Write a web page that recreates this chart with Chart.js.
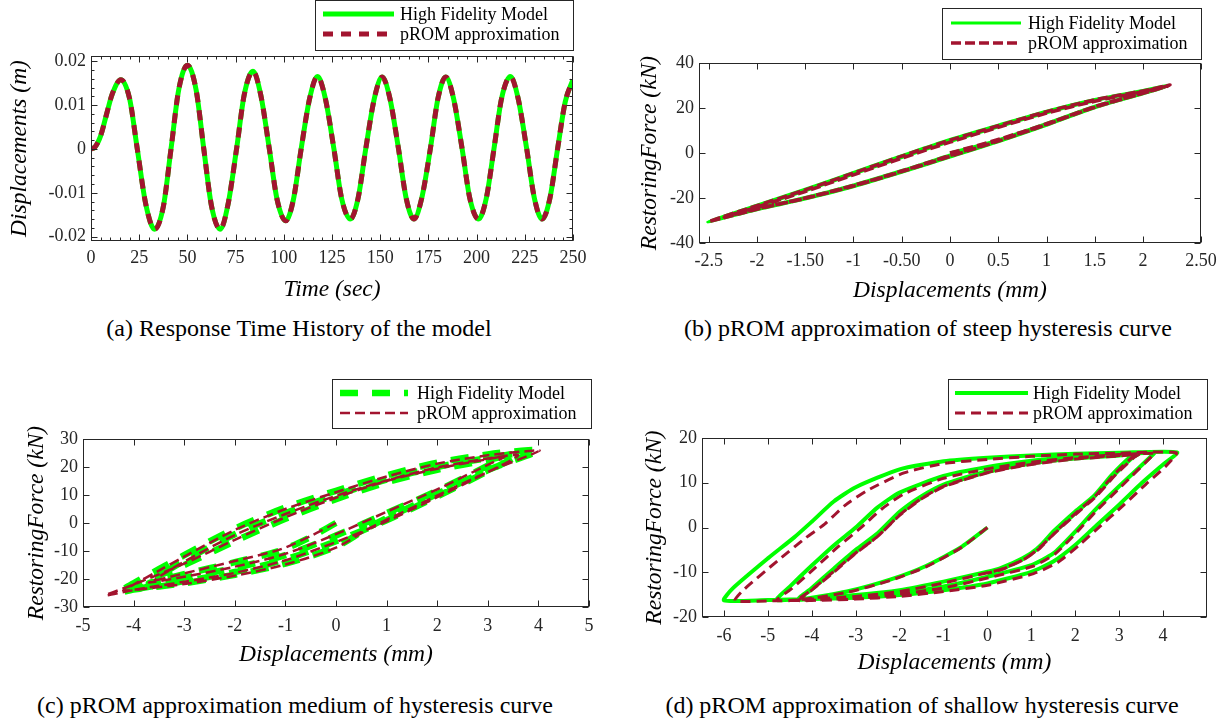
<!DOCTYPE html>
<html>
<head>
<meta charset="utf-8">
<script src="https://cdn.jsdelivr.net/npm/chart.js@4.4.0/dist/chart.umd.min.js"></script>
<style>
  body { margin: 0; background: #fff; width: 1219px; height: 723px; position: relative; overflow: hidden; }
  canvas { position: absolute; }
  .cap { position: absolute; font-family: 'Liberation Serif', 'Times New Roman', serif; font-size: 24px; color: #000; white-space: nowrap; transform: translateX(-50%); line-height: 28px; }
</style>
</head>
<body>
<canvas id="chartA" width="610" height="310" style="left:0;top:0"></canvas>
<canvas id="chartB" width="609" height="310" style="left:610px;top:0"></canvas>
<canvas id="chartC" width="610" height="315" style="left:0;top:365px"></canvas>
<canvas id="chartD" width="609" height="315" style="left:610px;top:365px"></canvas>
<div class="cap" style="left:299px;top:314px">(a) Response Time History of the model</div>
<div class="cap" style="left:928px;top:314px">(b) pROM approximation of steep hysteresis curve</div>
<div class="cap" style="left:295px;top:691px">(c) pROM approximation medium of hysteresis curve</div>
<div class="cap" style="left:922px;top:691px">(d) pROM approximation of shallow hysteresis curve</div>
<script>
// (a) response time history
const timeSec = [0, 2, 5, 8, 11, 15.5, 20, 24, 28.5, 33, 37.5, 41.5, 45.5, 50, 54.5, 58.5, 62.5, 67, 71, 75.5,
  79.5, 84, 88, 92.5, 96.5, 101, 105, 109, 113.5, 117.5, 121.5, 126, 130, 134.5, 138.5, 142.5, 147, 151, 155,
  159.5, 163.5, 167.5, 171.5, 176, 180, 184, 188, 192.5, 196.5, 201, 205, 209, 213, 217.5, 221.5, 226, 230,
  234, 238, 242, 246, 250];
const dispHFM = [0, 0.0004, 0.003, 0.0078, 0.0125, 0.0158, 0.0115, 0, -0.0128, -0.0183, -0.0132, 0, 0.0135,
  0.0191, 0.0135, 0, -0.013, -0.0183, -0.0128, 0, 0.0124, 0.0177, 0.0124, 0, -0.0115, -0.0164, -0.0115, 0,
  0.0117, 0.0165, 0.0116, 0, -0.0113, -0.016, -0.0113, 0, 0.0116, 0.0164, 0.0116, 0, -0.0113, -0.016, -0.0113,
  0, 0.0116, 0.0164, 0.0116, 0, -0.0113, -0.016, -0.0113, 0, 0.0116, 0.0165, 0.0116, 0, -0.0113, -0.016,
  -0.0113, 0, 0.0108, 0.0158];
const dispROM = [0, 0.0004, 0.003, 0.0078, 0.0125, 0.0158, 0.0115, 0, -0.0128, -0.0183, -0.0132, 0, 0.0135,
  0.0191, 0.0135, 0, -0.013, -0.0183, -0.0128, 0, 0.0124, 0.0177, 0.0124, 0, -0.0115, -0.0164, -0.0115, 0,
  0.0117, 0.0165, 0.0116, 0, -0.0113, -0.016, -0.0113, 0, 0.0116, 0.0164, 0.0116, 0, -0.0113, -0.016, -0.0113,
  0, 0.0116, 0.0164, 0.0116, 0, -0.0113, -0.016, -0.0113, 0, 0.0116, 0.0165, 0.0116, 0, -0.0113, -0.016,
  -0.0113, 0, 0.0108, 0.0158];
const timeTicks = [0, 25, 50, 75, 100, 125, 150, 175, 200, 225, 250];
const timeTickLabels = ['0', '25', '50', '75', '100', '125', '150', '175', '200', '225', '250'];
const dispTicks = [-0.02, -0.01, 0, 0.01, 0.02];
const dispTickLabels = ['-0.02', '-0.01', '0', '0.01', '0.02'];

// (b) steep hysteresis, [displacement mm, force kN]
const steepHFM = [[0,0],[0.5,5.8],[1,12.8],[1.5,20.3],[2,26.4],[2.27,30.1],
  [2,27.8],[1.5,23.8],[1,18.6],[0.5,12.4],[0,6],[-0.5,-1.2],[-1,-8.6],[-1.5,-16.1],[-2,-23.2],[-2.51,-30.6],
  [-2,-25.2],[-1.5,-20.5],[-1,-15],[-0.5,-8.6],[0,-1.8],[0.5,5],[1,12.3],[1.5,20.1],[2,26.3],[2.25,29.6],
  [2,27.4],[1.5,23.2],[1,17.9],[0.5,11.6],[0,5.1],[-0.5,-2],[-1,-9.4],[-1.5,-16.8],[-2,-23.8],[-2.35,-28.4],
  [-2,-24.6],[-1.5,-19.8],[-1,-14.2],[-0.5,-7.8],[0,-0.9],[0.5,5.8],[1,13.1],[1.5,20.8],[2,26.8],[2.22,29.4]];
const steepROM = [[0,0],[0.5,6],[1,13],[1.5,20.5],[2,26.6],[2.28,30.2],
  [2,27.6],[1.5,23.6],[1,18.4],[0.5,12.1],[0,5.7],[-0.5,-1.4],[-1,-8.9],[-1.5,-16.4],[-2,-23.4],[-2.5,-30.5],
  [-2,-25],[-1.5,-20.2],[-1,-14.7],[-0.5,-8.3],[0,-1.5],[0.5,5.3],[1,12.6],[1.5,20.3],[2,26.5],[2.26,29.8],
  [2,27.3],[1.5,23],[1,17.7],[0.5,11.4],[0,4.8],[-0.5,-2.3],[-1,-9.7],[-1.5,-17.1],[-2,-24],[-2.34,-28.5],
  [-2,-24.8],[-1.5,-20],[-1,-14.4],[-0.5,-8],[0,-1.1],[0.5,5.6],[1,12.9],[1.5,20.6],[2,26.7],[2.22,29.3]];
const steepXTicks = [-2.5, -2, -1.5, -1, -0.5, 0, 0.5, 1, 1.5, 2, 2.6];
const steepXTickLabels = ['-2.5', '-2', '-1.50', '-1', '-0.50', '0', '0.5', '1', '1.5', '2', '2.50'];
const steepYTicks = [-40, -20, 0, 20, 40];
const steepYTickLabels = ['-40', '-20', '0', '20', '40'];

// (c) medium hysteresis
const mediumHFM = [[0,0],[-0.5,-5],[-1.1,-9.8],[-2,-14],[-3,-18.3],[-3.7,-21.5],
  [-3,-19.5],[-2,-16],[-1,-11.5],[0,-4.5],[1,3.5],[2,11.5],[3,20.5],[3.3,23.5],
  [3,22.5],[2,19],[1,14.5],[0,8.5],[-1,1.5],[-2,-6.5],[-3,-15],[-4,-22.5],[-4.3,-25],
  [-4,-23.8],[-3,-21.5],[-2,-18.5],[-1,-14.5],[0,-8.5],[0.7,-1],[1.5,6],[2.3,13],[3.1,19.6],[4,25.8],
  [3.8,26],[3,24.5],[2,21.5],[1,17],[0,11.5],[-1,5.5],[-2,-2],[-3,-11.5],[-3.5,-16.5],[-4,-21.5],[-4.2,-24],
  [-3.5,-22.2],[-3,-20.8],[-2,-17.5],[-1,-13],[0,-6.5],[1,1],[2,9.5],[3,18.5],[3.6,24.5],
  [3,23.2],[2,20],[1,15.5],[0,10],[-1,3.5],[-2,-4],[-3,-13.5],[-3.5,-19],[-3.6,-20.5]];
const mediumROM = [[0,0],[-0.5,-4.6],[-1.1,-9.4],[-2,-13.6],[-3,-18],[-3.7,-21.2],
  [-3,-19.2],[-2,-15.6],[-1,-11],[0,-4],[1,4],[2,12],[3,20.8],[3.35,23.8],
  [3,22.8],[2,19.4],[1,15],[0,9],[-1,2],[-2,-6],[-3,-14.5],[-4,-22],[-4.55,-25.8],
  [-4,-24],[-3,-21.8],[-2,-18.8],[-1,-14.8],[0,-8.8],[0.7,-1.5],[1.5,5.4],[2.3,12.4],[3.1,19],[4.02,25.8],
  [3.8,25.7],[3,24.2],[2,21.2],[1,16.6],[0,11],[-1,5],[-2,-2.5],[-3,-12],[-3.5,-17],[-4,-22],[-4.2,-24.2],
  [-3.5,-22.4],[-3,-21],[-2,-17.8],[-1,-13.3],[0,-6.8],[1,0.6],[2,9.2],[3,18.2],[3.6,24.2],
  [3,23],[2,19.8],[1,15.2],[0,9.7],[-1,3.2],[-2,-4.3],[-3,-13.8],[-3.5,-19.2],[-3.6,-20.6]];
const mediumXTicks = [-5, -4, -3, -2, -1, 0, 1, 2, 3, 4, 5];
const mediumXTickLabels = ['-5', '-4', '-3', '-2', '-1', '0', '1', '2', '3', '4', '5'];
const mediumYTicks = [-30, -20, -10, 0, 10, 20, 30];
const mediumYTickLabels = ['-30', '-20', '-10', '0', '10', '20', '30'];

// (d) shallow hysteresis
const shallowHFM = [[0,0],[-0.6,-4.4],[-1.4,-8.6],[-2.2,-11.6],[-3.2,-14.3],[-4.3,-16],
  [-4,-13.5],[-3.5,-9.2],[-3,-5],[-2.5,-1.3],[-2,3.5],[-1.5,7],[-1,9.6],[0,12.6],[1,14.4],[2,15.5],[3,16.2],[3.4,16.5],
  [3.27,15.9],[2.84,11.8],[2.42,7],[2,3.6],[1.5,-0.9],[1.15,-4.6],[0.8,-6.9],[0.3,-9.1],[0,-9.9],[-1,-12.1],[-2,-14],[-3,-15.1],[-4,-15.8],[-4.8,-16.2],
  [-4.5,-13.2],[-4,-8.5],[-3.5,-4],[-3,0],[-2.5,4.5],[-2,7.8],[-1,11.5],[0,13.5],[1,14.9],[2,15.8],[3,16.4],[3.8,16.7],
  [3.77,16.3],[3,9.2],[2.42,3.6],[2,-0.9],[1.5,-5.8],[1,-8.4],[0,-11],[-1,-13.2],[-2,-14.7],[-3,-15.6],[-4,-16],[-5,-16.2],[-6,-16.3],
  [-5.8,-13.6],[-5,-6.9],[-4.4,-2.2],[-4,1.3],[-3.5,5.8],[-3,9],[-2,13],[-1,14.8],[0,15.6],[1,16.1],[2,16.5],[3,16.7],[4.32,16.8],
  [4,14.1],[3.52,10],[3,5.1],[2.42,-0.1],[2,-3.9],[1.5,-7.6],[1,-9.9],[0,-12.5],[-1,-14],[-2,-15.1],[-3,-15.7],[-4,-16],[-4.3,-16.1],
  [-4,-13.8],[-3.5,-9.6],[-3,-5.4],[-2.5,-1.6],[-2,3.1],[-1.5,6.7],[-1,9.4],[0,12.4],[1,14.3],[2,15.4],[3,16.1],[3.45,16.5],
  [3.3,15.6],[2.9,11.9],[2.45,7.1],[2,3.2],[1.5,-1.3],[1.1,-5],[0.8,-7.1],[0.3,-9.3],[0,-10.1]];
const shallowROM = [[0,0],[-0.6,-4.5],[-1.4,-8.8],[-2.2,-11.8],[-3.2,-14.5],[-4.3,-16.1],
  [-4,-13.9],[-3.5,-9.8],[-3,-5.7],[-2.5,-2],[-2,2.8],[-1.5,6.5],[-1,9.2],[0,12.3],[1,14.2],[2,15.4],[3,16.1],[3.45,16.4],
  [3.3,15.7],[2.88,11.8],[2.45,7],[2.03,3.4],[1.55,-1],[1.2,-4.6],[0.85,-7],[0.35,-9.2],[0,-10.1],[-1,-12.4],[-2,-14.3],[-3,-15.4],[-4,-16],[-4.8,-16.3],
  [-4.45,-13.6],[-3.9,-8.8],[-3.4,-4.3],[-2.9,-0.2],[-2.4,4.2],[-1.9,7.5],[-1,11],[0,13.1],[1,14.6],[2,15.6],[3,16.3],[3.8,16.6],
  [3.75,16],[3.05,9.2],[2.47,3.6],[2.05,-0.9],[1.55,-5.8],[1.05,-8.6],[0,-11.3],[-1,-13.5],[-2,-14.9],[-3,-15.8],[-4,-16.2],[-5,-16.4],[-5.75,-16.4],
  [-5.55,-13.9],[-4.75,-7.2],[-4.15,-2.4],[-3.7,0.8],[-3.25,4.9],[-2.75,8.2],[-1.9,12.2],[-1,14.3],[0,15.2],[1,15.9],[2,16.4],[3,16.6],[4.3,16.7],
  [4.05,13.6],[3.6,9.6],[3.1,5],[2.5,-0.3],[2.08,-4],[1.6,-7.8],[1.05,-10.3],[0,-12.9],[-1,-14.3],[-2,-15.4],[-3,-16],[-4,-16.3],[-4.3,-16.3],
  [-4,-14],[-3.5,-10],[-3,-5.8],[-2.5,-2],[-2,2.7],[-1.5,6.4],[-1,9.1],[0,12.2],[1,14.1],[2,15.3],[3,16],[3.45,16.4],
  [3.32,15.5],[2.92,11.8],[2.48,7],[2.03,3.1],[1.52,-1.4],[1.12,-5.1],[0.82,-7.2],[0.32,-9.4],[0,-10.2]];
const shallowXTicks = [-6, -5, -4, -3, -2, -1, 0, 1, 2, 3, 4];
const shallowXTickLabels = ['-6', '-5', '-4', '-3', '-2', '-1', '0', '1', '2', '3', '4'];
const shallowYTicks = [-20, -10, 0, 10, 20];
const shallowYTickLabels = ['-20', '-10', '0', '10', '20'];

const GREEN = '#00ff00';
const MAROON = '#a2142f';
const AXIS = '#262626';
const SERIF = "'Liberation Serif', 'Times New Roman', serif";
const tickFont = { family: SERIF, size: 18 };
const titleFont = { family: SERIF, size: 23.5, style: 'italic' };

// matlab style box, inward ticks and boxed legend
const matlabAxes = {
  id: 'matlabAxes',
  afterDraw(chart, args, opts) {
    const { ctx, chartArea: a } = chart;
    const xs = chart.scales.x, ys = chart.scales.y;
    const L = Math.round(a.left) + 0.5, R = Math.round(a.right) - 0.5;
    const T = Math.round(a.top) + 0.5, B = Math.round(a.bottom) - 0.5;
    ctx.save();
    ctx.strokeStyle = AXIS;
    ctx.lineWidth = 1;
    ctx.strokeRect(L, T, R - L, B - T);
    ctx.beginPath();
    const tl = 6;
    xs.ticks.forEach(t => {
      const p = Math.round(xs.getPixelForValue(t.value)) + 0.5;
      ctx.moveTo(p, B); ctx.lineTo(p, B - tl);
      ctx.moveTo(p, T); ctx.lineTo(p, T + tl);
    });
    ys.ticks.forEach(t => {
      const p = Math.round(ys.getPixelForValue(t.value)) + 0.5;
      ctx.moveTo(L, p); ctx.lineTo(L + tl, p);
      ctx.moveTo(R, p); ctx.lineTo(R - tl, p);
    });
    if (opts.minorX) {
      for (let v = xs.min; v <= xs.max + 1e-9; v += opts.minorX) {
        const p = Math.round(xs.getPixelForValue(v)) + 0.5;
        ctx.moveTo(p, B); ctx.lineTo(p, B - 3);
        ctx.moveTo(p, T); ctx.lineTo(p, T + 3);
      }
    }
    if (opts.minorY) {
      for (let v = -0.02; v <= 0.02 + 1e-9; v += opts.minorY) {
        const p = Math.round(ys.getPixelForValue(v)) + 0.5;
        ctx.moveTo(L, p); ctx.lineTo(L + 3, p);
        ctx.moveTo(R, p); ctx.lineTo(R - 3, p);
      }
    }
    ctx.stroke();

    const lg = opts.legend;
    ctx.fillStyle = '#fff';
    ctx.fillRect(lg.x, lg.y, lg.w, lg.h);
    ctx.strokeRect(lg.x + 0.5, lg.y + 0.5, lg.w, lg.h);
    ctx.font = '18px ' + SERIF;
    ctx.textBaseline = 'middle';
    chart.data.datasets.forEach((ds, i) => {
      const y = lg.y + lg.rows[i];
      ctx.save();
      ctx.strokeStyle = ds.borderColor;
      ctx.lineWidth = ds.borderWidth;
      ctx.setLineDash(ds.borderDash || []);
      ctx.beginPath();
      ctx.moveTo(lg.x + lg.s0, y);
      ctx.lineTo(lg.x + lg.s1, y);
      ctx.stroke();
      ctx.restore();
      ctx.fillStyle = '#000';
      ctx.fillText(ds.label, lg.x + lg.tx, y + 1);
    });
    ctx.restore();
  }
};

function axisOptions(c) {
  return {
    responsive: false,
    animation: false,
    layout: { padding: c.pad },
    plugins: {
      legend: { display: false },
      tooltip: { enabled: false },
      matlabAxes: { legend: c.legend, minorX: c.minorX, minorY: c.minorY }
    },
    elements: { point: { radius: 0 }, line: { tension: c.tension } },
    scales: {
      x: {
        type: 'linear', min: c.xMin, max: c.xMax,
        afterBuildTicks: s => { s.ticks = c.xTicks.map(v => ({ value: v })); },
        afterFit: s => { s.height = c.xH; s.paddingLeft = 0; s.paddingRight = 0; },
        grid: { display: false, drawTicks: false },
        border: { display: false },
        ticks: { padding: c.xPad, color: AXIS, font: tickFont, maxRotation: 0, autoSkip: false,
                 callback: (v, i) => c.xLabels[i] },
        title: { display: true, text: c.xTitle, color: '#000', font: titleFont, padding: { top: 0, bottom: 0 } }
      },
      y: {
        type: 'linear', min: c.yMin, max: c.yMax,
        afterBuildTicks: s => { s.ticks = c.yTicks.map(v => ({ value: v })); },
        afterFit: s => { s.width = c.yW; s.paddingTop = 0; s.paddingBottom = 0; },
        grid: { display: false, drawTicks: false },
        border: { display: false },
        ticks: { padding: 5, color: AXIS, font: tickFont, autoSkip: false,
                 callback: (v, i) => c.yLabels[i] },
        title: { display: true, text: c.yTitle, color: '#000', font: titleFont, padding: { top: c.yTitlePad, bottom: 0 } }
      }
    }
  };
}

const pairs = arr => arr.map(p => ({ x: p[0], y: p[1] }));

new Chart(document.getElementById('chartA'), {
  type: 'scatter',
  data: {
    datasets: [
      { label: 'High Fidelity Model', data: timeSec.map((t, i) => ({ x: t, y: dispHFM[i] })),
        showLine: true, borderColor: GREEN, borderWidth: 5, cubicInterpolationMode: 'monotone', order: 1 },
      { label: 'pROM approximation', data: timeSec.map((t, i) => ({ x: t, y: dispROM[i] })),
        showLine: true, borderColor: MAROON, borderWidth: 5, borderDash: [10, 8], cubicInterpolationMode: 'monotone', order: 0 }
    ]
  },
  options: axisOptions({
    pad: { left: 0, top: 56, right: 37, bottom: 6 }, yW: 91, xH: 63, xPad: 6, tension: 0.4,
    xMin: 0, xMax: 250, xTicks: timeTicks, xLabels: timeTickLabels,
    yMin: -0.021, yMax: 0.0212, yTicks: dispTicks, yLabels: dispTickLabels,
    xTitle: 'Time (sec)', yTitle: 'Displacements (m)', yTitlePad: 6,
    minorX: 5, minorY: 0.002,
    legend: { x: 315, y: 0, w: 258, h: 50, rows: [14, 34], s0: 8, s1: 79, tx: 85 }
  }),
  plugins: [matlabAxes]
});

new Chart(document.getElementById('chartB'), {
  type: 'scatter',
  data: {
    datasets: [
      { label: 'High Fidelity Model', data: pairs(steepHFM), showLine: true, borderColor: GREEN, borderWidth: 3, order: 1 },
      { label: 'pROM approximation', data: pairs(steepROM), showLine: true, borderColor: MAROON, borderWidth: 3.5, borderDash: [10, 4], order: 0 }
    ]
  },
  options: axisOptions({
    pad: { left: 0, top: 63, right: 18, bottom: 5 }, yW: 89, xH: 62, xPad: 7, tension: 0.3,
    xMin: -2.6, xMax: 2.6, xTicks: steepXTicks, xLabels: steepXTickLabels,
    yMin: -40, yMax: 40, yTicks: steepYTicks, yLabels: steepYTickLabels,
    xTitle: 'Displacements (mm)', yTitle: 'RestoringForce (kN)', yTitlePad: 26,
    legend: { x: 332, y: 8, w: 259, h: 51, rows: [15, 35], s0: 9, s1: 79, tx: 86 }
  }),
  plugins: [matlabAxes]
});

new Chart(document.getElementById('chartC'), {
  type: 'scatter',
  data: {
    datasets: [
      { label: 'High Fidelity Model', data: pairs(mediumHFM), showLine: true, borderColor: GREEN, borderWidth: 6.5, borderDash: [18, 14], order: 1 },
      { label: 'pROM approximation', data: pairs(mediumROM), showLine: true, borderColor: MAROON, borderWidth: 2.5, borderDash: [10, 5], order: 0 }
    ]
  },
  options: axisOptions({
    pad: { left: 0, top: 74, right: 21, bottom: 11 }, yW: 83, xH: 62, xPad: 8, tension: 0.3,
    xMin: -5, xMax: 5, xTicks: mediumXTicks, xLabels: mediumXTickLabels,
    yMin: -30, yMax: 30, yTicks: mediumYTicks, yLabels: mediumYTickLabels,
    xTitle: 'Displacements (mm)', yTitle: 'RestoringForce (kN)', yTitlePad: 23,
    legend: { x: 332, y: 14, w: 259, h: 49, rows: [14, 34], s0: 8, s1: 76, tx: 85 }
  }),
  plugins: [matlabAxes]
});

new Chart(document.getElementById('chartD'), {
  type: 'scatter',
  data: {
    datasets: [
      { label: 'High Fidelity Model', data: pairs(shallowHFM), showLine: true, borderColor: GREEN, borderWidth: 4, order: 1 },
      { label: 'pROM approximation', data: pairs(shallowROM), showLine: true, borderColor: MAROON, borderWidth: 3, borderDash: [10, 6], order: 0 }
    ]
  },
  options: axisOptions({
    pad: { left: 0, top: 73, right: 12, bottom: 3 }, yW: 92, xH: 60, xPad: 8, tension: 0.2,
    xMin: -6.5, xMax: 5, xTicks: shallowXTicks, xLabels: shallowXTickLabels,
    yMin: -20, yMax: 20, yTicks: shallowYTicks, yLabels: shallowYTickLabels,
    xTitle: 'Displacements (mm)', yTitle: 'RestoringForce (kN)', yTitlePad: 31,
    legend: { x: 338, y: 14, w: 259, h: 50, rows: [14, 34], s0: 7, s1: 80, tx: 85 }
  }),
  plugins: [matlabAxes]
});
</script>
</body>
</html>
